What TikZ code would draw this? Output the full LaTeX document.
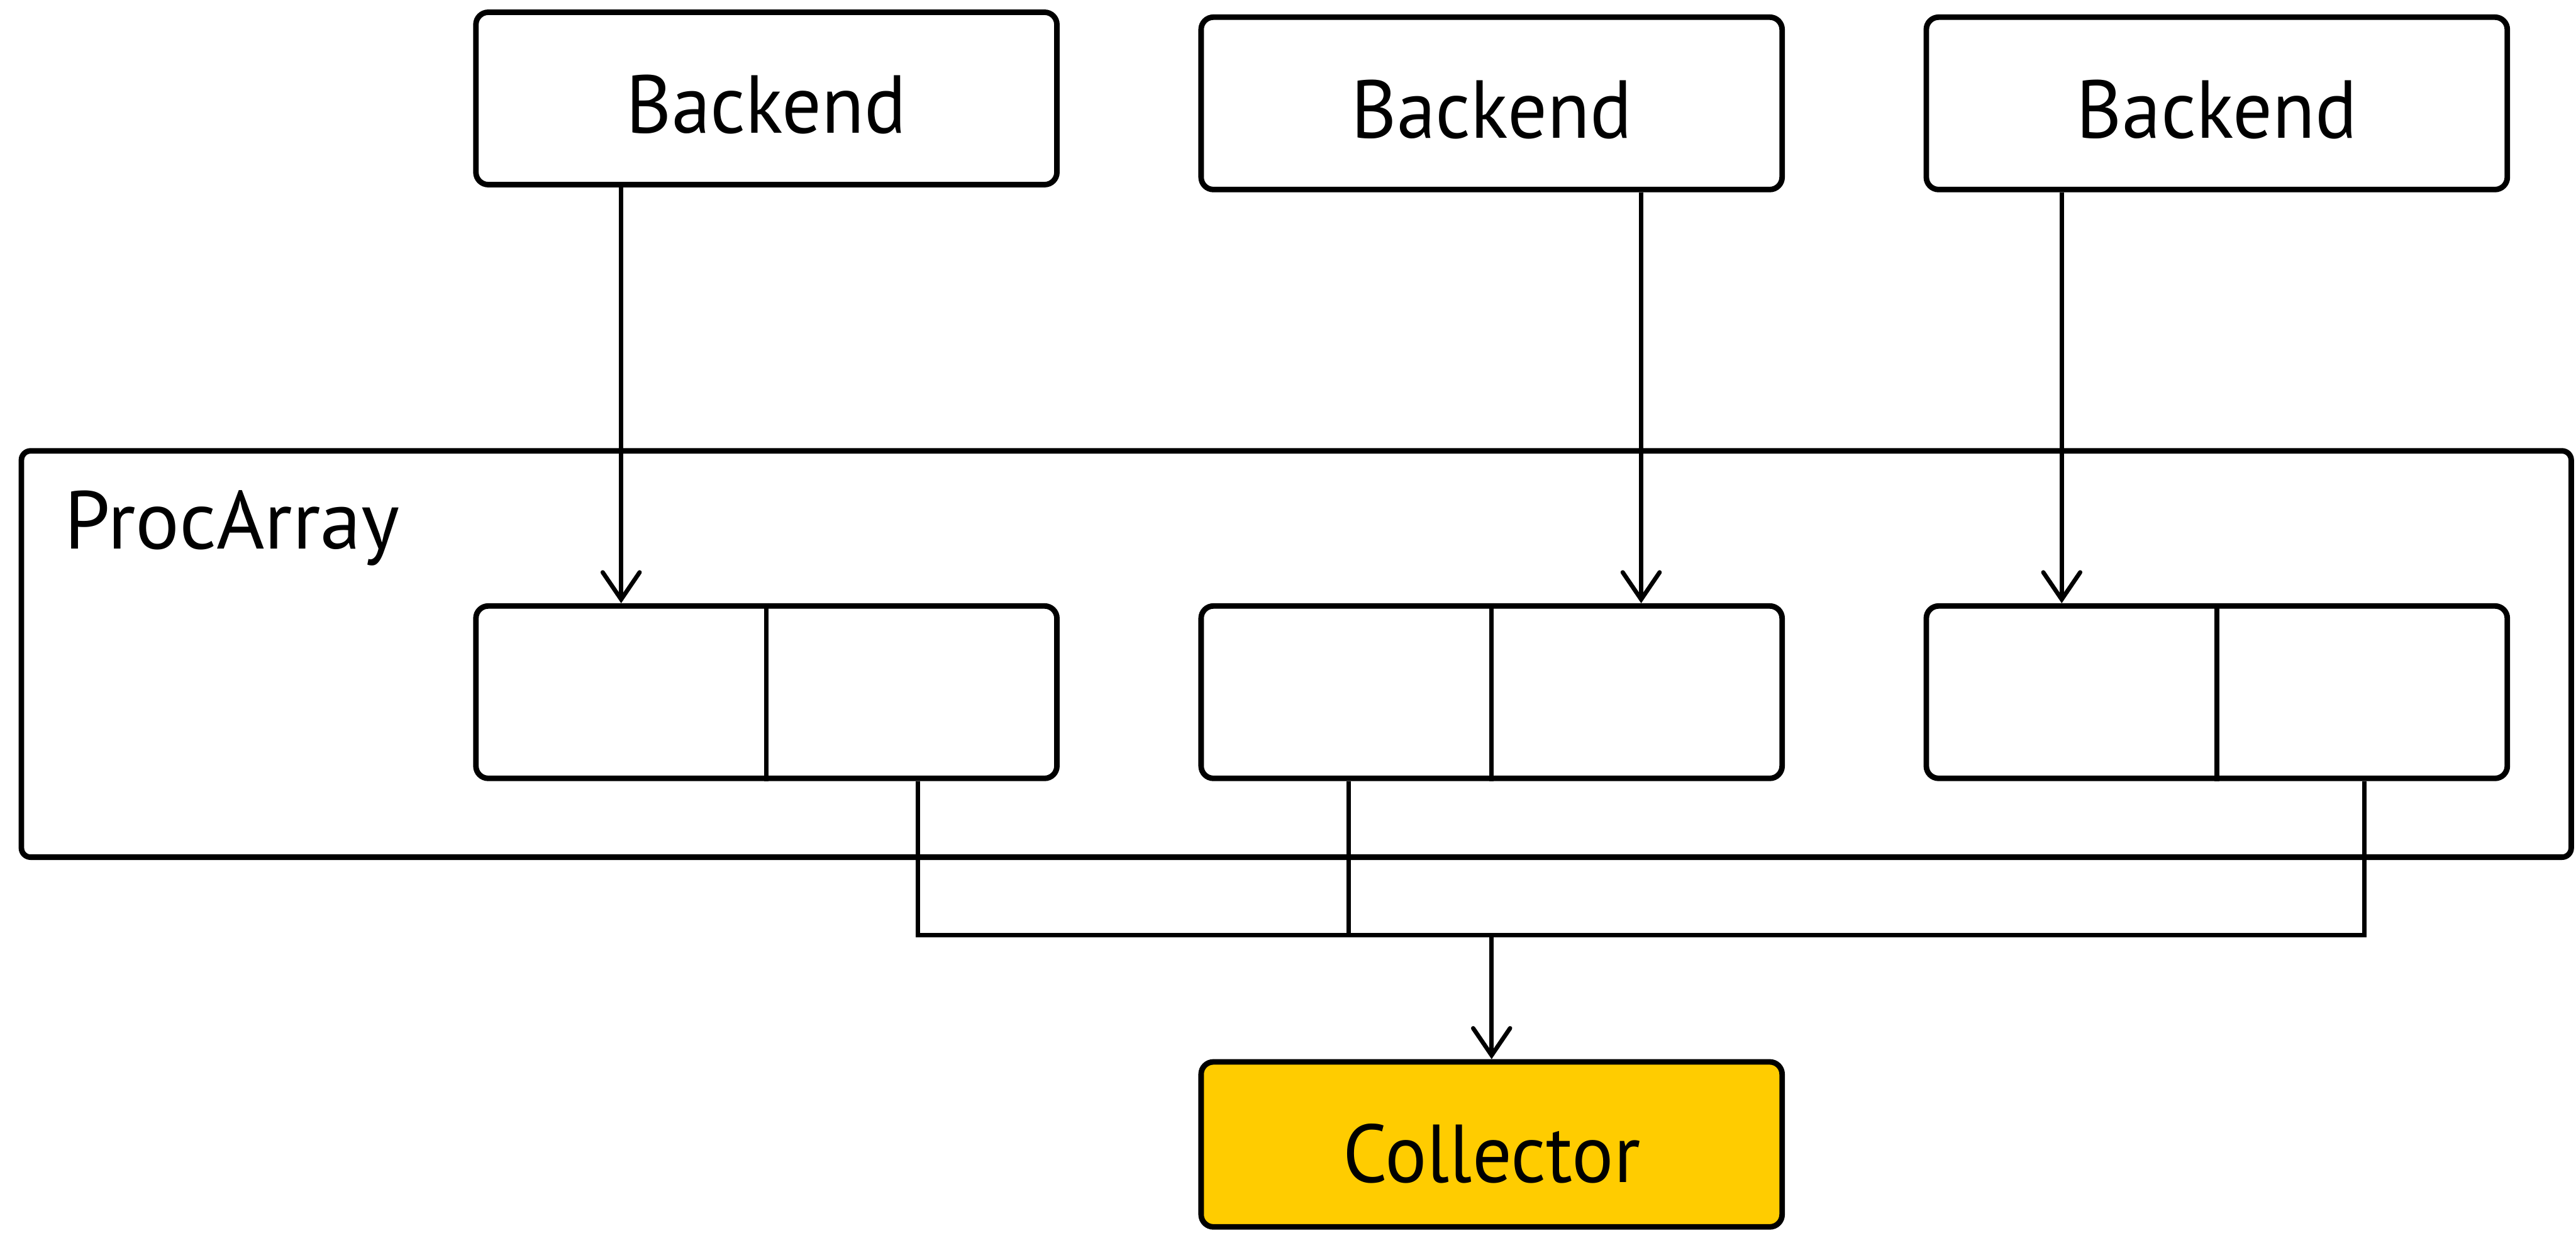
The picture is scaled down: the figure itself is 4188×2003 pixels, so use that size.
\documentclass[tikz,border=0pt]{standalone}
\usepackage{fontspec}
\setmainfont{PT Sans}
\newfontfamily\boxfont[FakeStretch=0.95]{PT Sans}
\usetikzlibrary{arrows.meta}
\definecolor{collfill}{HTML}{FFCC00}
\begin{document}
\begin{tikzpicture}[x=0.01cm,y=-0.01cm,
  box/.style={draw=black,line width=0.09cm,rounded corners=0.2cm,inner sep=0pt,
    minimum width=9.44cm,minimum height=2.8cm,text height=1.14cm,
    font=\boxfont\fontsize{38}{44}\selectfont},
  conn/.style={draw=black,line width=0.075cm},
  arr/.style={conn,-{Straight Barb[length=0.44cm,width=0.6cm,line width=0.07cm,line cap=round]}}]
\useasboundingbox (0,0) rectangle (4188,2003);
% ProcArray container
\node[box,minimum width=41.43cm,minimum height=6.6cm,rounded corners=0.15cm] (PA) at (2107.5,1063) {};
\node[anchor=base west,inner sep=0pt,font=\fontsize{38}{44}\selectfont] (PAlabel) at (104,892) {ProcArray};
% Backends
\node[box] (B1) at (1246,160) {Backend};
\node[box] (B2) at (2425,168) {Backend};
\node[box] (B3) at (3604,168) {Backend};
% inner split boxes
\node[box] (I1) at (1246,1125) {};
\node[box] (I2) at (2425,1125) {};
\node[box] (I3) at (3604,1125) {};
\draw[conn] (I1.north) -- (I1.south);
\draw[conn] (I2.north) -- (I2.south);
\draw[conn] (I3.north) -- (I3.south);
% Collector
\node[box,fill=collfill,minimum height=2.68cm,text height=1.24cm] (C) at (2425,1860) {Collector};
% arrows backend -> slots
\draw[arr] ([xshift=-2.36cm]B1.south) -- ([xshift=-2.36cm]I1.north);
\draw[arr] ([xshift=2.43cm]B2.south) -- ([xshift=2.43cm]I2.north);
\draw[arr] ([xshift=-2.52cm]B3.south) -- ([xshift=-2.52cm]I3.north);
% collection lines
\coordinate (J) at (2425,1520);
\coordinate (o1) at ([xshift=2.46cm]I1.south);
\coordinate (o2) at ([xshift=-2.32cm]I2.south);
\coordinate (o3) at ([xshift=2.40cm]I3.south);
\draw[conn] (o1) -- (o1 |- J) -- (o3 |- J) -- (o3);
\draw[conn] (o2) -- (o2 |- J);
\draw[arr] (J) -- (C.north);
\end{tikzpicture}
\end{document}
